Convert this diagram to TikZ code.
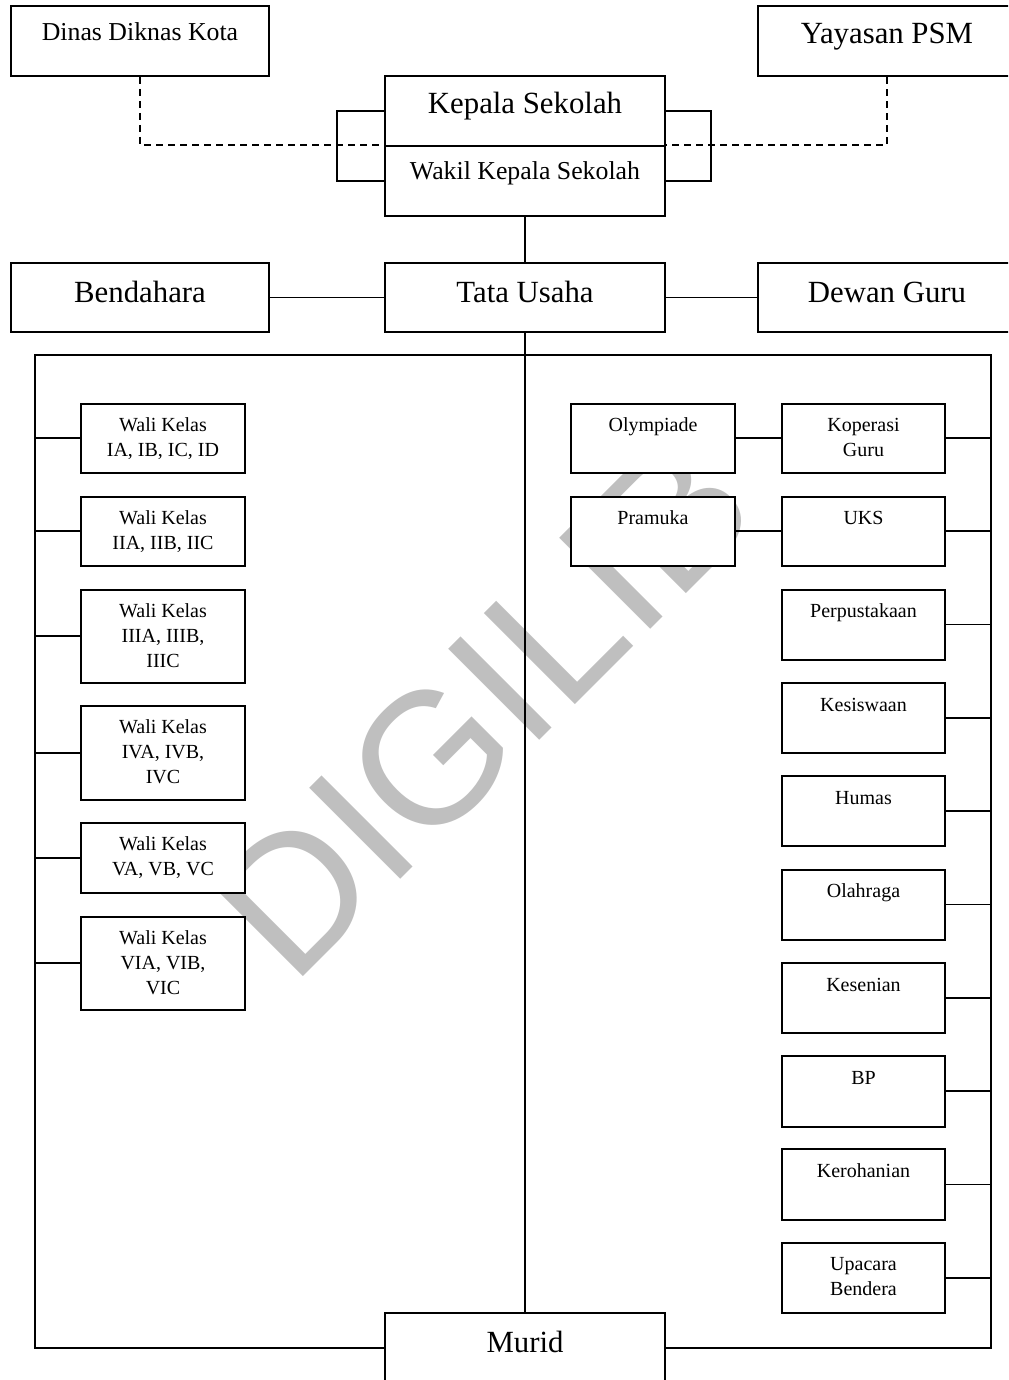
\documentclass[tikz,border=0pt]{standalone}
\usepackage{fontspec}
\setmainfont{Liberation Serif}
\newfontfamily\wmfont{Liberation Sans}
\definecolor{wmgray}{RGB}{191,191,191}
\pgfdeclarelayer{wm}
\pgfdeclarelayer{bg}
\pgfsetlayers{wm,bg,main}
\tikzset{
  bxs/.style={draw, fill=white, line width=1pt, inner sep=0pt, anchor=north west},
  conn/.style={line width=0.9pt},
  dconn/.style={line width=0.9pt, dash pattern=on 3.5pt off 2.5pt},
  big/.style={font=\fontsize{15.4}{18}\selectfont},
  med/.style={font=\fontsize{12.9}{15}\selectfont},
  sml/.style={font=\fontsize{10}{12.5}\selectfont},
  txt/.style={anchor=base, align=center, inner sep=0pt}
}
\newcommand\bx[5]{\node[bxs, minimum width=#4*0.5pt, minimum height=#5*0.5pt] (#1) at (#2,#3) {};}
% #2 = distance (px) from box top to baseline of the LAST line
\newcommand\tx[4]{\node[txt, #3] (#1-t) at ([yshift=-#2*0.5pt]#1.north) {#4};}
\begin{document}
\begin{tikzpicture}[x=0.5pt, y=-0.5pt]
\clip (0,0) rectangle (1008,1380);
% boxes
\bx{dinas}{10}{5}{258}{70}
\bx{yayasan}{757}{5}{258}{70}
\bx{kepala}{384}{75}{280}{70}
\bx{wakil}{384}{145}{280}{70}
\bx{bend}{10}{262}{258}{69}
\bx{tata}{384}{262}{280}{69}
\bx{dewan}{757}{262}{258}{69}
\bx{murid}{384}{1312}{280}{70}
% left column
\bx{w1}{80}{402.5}{164}{69.5}
\bx{w2}{80}{495.5}{164}{69.5}
\bx{w3}{80}{588.5}{164}{93.5}
\bx{w4}{80}{705}{164}{93.5}
\bx{w5}{80}{822}{164}{69.5}
\bx{w6}{80}{915.5}{164}{93}
% middle column
\bx{olym}{570}{402.5}{164}{69.5}
\bx{pram}{570}{495.5}{164}{69.5}
% right column
\bx{kop}{781}{402.5}{163}{69.5}
\bx{uks}{781}{495.5}{163}{69.5}
\bx{perp}{781}{588.5}{163}{70}
\bx{kesis}{781}{682}{163}{70}
\bx{humas}{781}{775}{163}{70}
\bx{olah}{781}{868.5}{163}{70}
\bx{kesen}{781}{962}{163}{70}
\bx{bp}{781}{1055}{163}{70.5}
\bx{kero}{781}{1148}{163}{71}
\bx{upac}{781}{1241.5}{163}{70.5}
% texts
\tx{dinas}{36}{med}{Dinas Diknas Kota}
\tx{yayasan}{39}{big}{Yayasan PSM}
\tx{kepala}{39}{big}{Kepala Sekolah}
\tx{wakil}{35}{med}{Wakil Kepala Sekolah}
\tx{bend}{40.5}{big}{Bendahara}
\tx{tata}{40.5}{big}{Tata Usaha}
\tx{dewan}{40.5}{big}{Dewan Guru}
\tx{murid}{40}{big}{Murid}
\tx{w1}{53.5}{sml}{Wali Kelas\\IA, IB, IC, ID}
\tx{w2}{53.5}{sml}{Wali Kelas\\IIA, IIB, IIC}
\tx{w3}{78.5}{sml}{Wali Kelas\\IIIA, IIIB,\\IIIC}
\tx{w4}{78.5}{sml}{Wali Kelas\\IVA, IVB,\\IVC}
\tx{w5}{53.5}{sml}{Wali Kelas\\VA, VB, VC}
\tx{w6}{78.5}{sml}{Wali Kelas\\VIA, VIB,\\VIC}
\tx{olym}{29}{sml}{Olympiade}
\tx{pram}{29}{sml}{Pramuka}
\tx{kop}{53.5}{sml}{Koperasi\\Guru}
\tx{uks}{29}{sml}{UKS}
\tx{perp}{29}{sml}{Perpustakaan}
\tx{kesis}{29}{sml}{Kesiswaan}
\tx{humas}{29}{sml}{Humas}
\tx{olah}{29}{sml}{Olahraga}
\tx{kesen}{29}{sml}{Kesenian}
\tx{bp}{29}{sml}{BP}
\tx{kero}{29.5}{sml}{Kerohanian}
\tx{upac}{54}{sml}{Upacara\\Bendera}
% coordinates
\coordinate (fTL) at (35,355);
\coordinate (fTR) at (991,355);
\coordinate (bL) at (337,110);
\coordinate (bR) at (711,110);
\begin{pgfonlayer}{wm}
\node[anchor=base, inner sep=0pt, rotate=45, text=wmgray, font=\wmfont\fontsize{93.6}{100}\selectfont] (wmark) at (528,752) {DIGILIB};
\end{pgfonlayer}
\begin{pgfonlayer}{bg}
\draw[dconn] (dinas.south) |- (wakil.north west) -- (wakil.north east) -| (yayasan.south);
\draw[conn] (kepala.west) -- (kepala.west -| bL) |- (wakil.west);
\draw[conn] (kepala.east) -- (kepala.east -| bR) |- (wakil.east);
\draw[conn] (wakil.south) -- (tata.north);
\draw[conn] (bend.east) -- (tata.west);
\draw[conn] (tata.east) -- (dewan.west);
\draw[conn] (tata.south) -- (murid.north);
\draw[conn] (murid.west) -| (fTL) -- (fTR) |- (murid.east);
\foreach \n in {w1,w2,w3,w4,w5,w6}{\draw[conn] (\n.west) -- (\n.west -| fTL);}
\foreach \n in {kop,uks,perp,kesis,humas,olah,kesen,bp,kero,upac}{\draw[conn] (\n.east) -- (\n.east -| fTR);}
\draw[conn] (olym.east) -- (kop.west);
\draw[conn] (pram.east) -- (uks.west);
\end{pgfonlayer}
\end{tikzpicture}
\end{document}
